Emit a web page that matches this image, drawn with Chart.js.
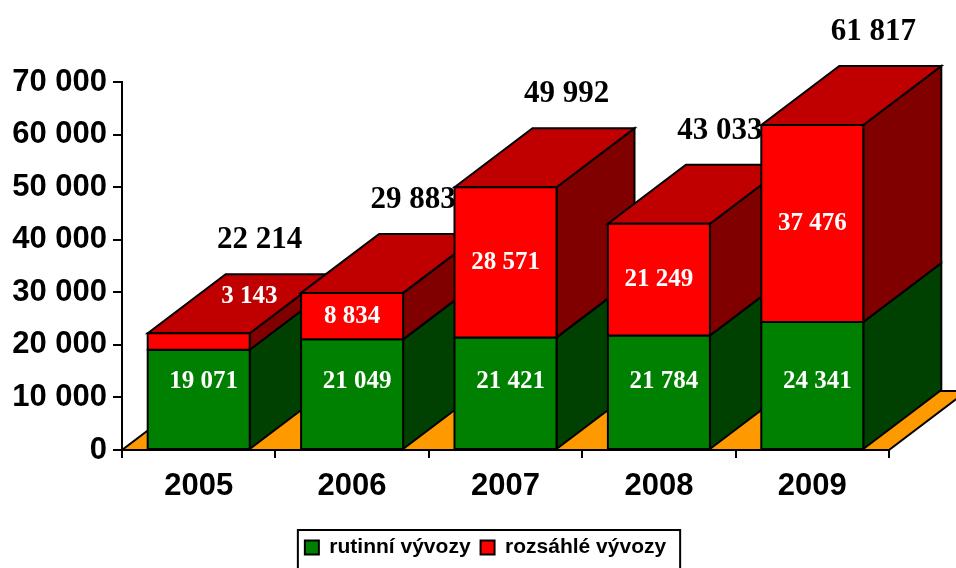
<!DOCTYPE html>
<html lang="cs">
<head>
    <meta charset="UTF-8">
    <title>Vývozy 2005-2009</title>
    <script src="https://cdn.jsdelivr.net/npm/chart.js"></script>
    <style>
        body {
            margin: 0;
            background: #fff;
        }
        .chart-container {
            width: 956px;
            height: 568px;
        }
    </style>
</head>
<body>
    <div class="chart-container">
        <canvas id="vyvozyChart"></canvas>
    </div>

    <script>
        // Data
        const years = ['2005', '2006', '2007', '2008', '2009'];
        const rutinni = [19071, 21049, 21421, 21784, 24341];
        const rozsahle = [3143, 8834, 28571, 21249, 37476];
        const totals = [22214, 29883, 49992, 43033, 61817];
        const yMax = 70000;
        const yStep = 10000;

        // colours: front, side, top
        const frontColors = ['#008000', '#ff0000'];
        const sideColors = ['#004000', '#800000'];
        const topColors = ['#006000', '#c00000'];
        const floorColor = '#ff9900';

        // depth of the 3D boxes in pixels
        const DX = 78, DY = -59;
        // legend sits a bit right of the centre in the original
        const LEGEND_SHIFT = 41;

        const fmt = v => String(v).replace(/\B(?=(\d{3})+(?!\d))/g, ' ');

        function poly(ctx, pts, fill) {
            ctx.beginPath();
            ctx.moveTo(pts[0][0], pts[0][1]);
            for (let k = 1; k < pts.length; k++) ctx.lineTo(pts[k][0], pts[k][1]);
            ctx.closePath();
            ctx.fillStyle = fill;
            ctx.fill();
            ctx.stroke();
        }

        // draws the floor, the boxes and the value labels
        const box3d = {
            id: 'box3d',
            afterLayout(chart) {
                // legend plugin recomputes its hitboxes after this (afterUpdate)
                const lg = chart.legend;
                lg.left += LEGEND_SHIFT;
                lg.right += LEGEND_SHIFT;
            },
            beforeDatasetsDraw(chart) {
                const ctx = chart.ctx;
                const xs = chart.scales.x, ys = chart.scales.y;
                const y0 = ys.getPixelForValue(0);
                ctx.save();
                ctx.lineWidth = 2;
                ctx.strokeStyle = '#000';

                poly(ctx, [[xs.left, y0], [xs.right, y0], [xs.right + DX, y0 + DY], [xs.left + DX, y0 + DY]], floorColor);

                const nSets = chart.data.datasets.length;
                years.forEach((yr, i) => {
                    const els = [];
                    for (let d = 0; d < nSets; d++) els.push(chart.getDatasetMeta(d).data[i]);
                    // sides
                    els.forEach((el, d) => {
                        const r = el.x + el.width / 2;
                        poly(ctx, [[r, el.base], [r + DX, el.base + DY], [r + DX, el.y + DY], [r, el.y]], sideColors[d]);
                    });
                    // top of the stack
                    const t = els[nSets - 1];
                    const l = t.x - t.width / 2, r = t.x + t.width / 2;
                    poly(ctx, [[l, t.y], [l + DX, t.y + DY], [r + DX, t.y + DY], [r, t.y]], topColors[nSets - 1]);
                    // fronts
                    els.forEach((el, d) => {
                        const lx = el.x - el.width / 2;
                        poly(ctx, [[lx, el.y], [lx + el.width, el.y], [lx + el.width, el.base], [lx, el.base]], frontColors[d]);
                    });
                });

                // labels
                ctx.textAlign = 'center';
                ctx.textBaseline = 'middle';
                years.forEach((yr, i) => {
                    const g = chart.getDatasetMeta(0).data[i];
                    const rd = chart.getDatasetMeta(1).data[i];
                    ctx.fillStyle = '#fff';
                    ctx.font = 'bold 25px "Liberation Serif"';
                    ctx.fillText(fmt(rutinni[i]), g.x + 5, g.base - 67);
                    if (rd.base - rd.y > 30) {
                        ctx.fillText(fmt(rozsahle[i]), rd.x, (rd.y + rd.base) / 2);
                    } else {
                        ctx.fillText(fmt(rozsahle[i]), rd.x + DX * 0.65, rd.y + DY * 0.62);
                    }
                    ctx.fillStyle = '#000';
                    ctx.font = 'bold 31px "Liberation Serif"';
                    ctx.fillText(fmt(totals[i]), rd.x + 61, rd.y - 93);
                });
                ctx.restore();
                return false;
            },
            afterDraw(chart) {
                const hb = chart.legend.legendHitBoxes;
                if (!hb || !hb.length) return;
                const last = hb[hb.length - 1];
                const left = hb[0].left - 7;
                const right = last.left + last.width + 14;
                const top = hb[0].top - 7;
                const ctx = chart.ctx;
                ctx.save();
                ctx.lineWidth = 2;
                ctx.strokeStyle = '#000';
                ctx.strokeRect(left, top, right - left, chart.height - top + 4);
                ctx.restore();
            }
        };

        const ctx = document.getElementById('vyvozyChart').getContext('2d');
        new Chart(ctx, {
            type: 'bar',
            data: {
                labels: years,
                datasets: [{
                    label: 'rutinní vývozy',
                    data: rutinni,
                    backgroundColor: frontColors[0],
                    borderColor: '#000',
                    borderWidth: 2
                }, {
                    label: 'rozsáhlé vývozy',
                    data: rozsahle,
                    backgroundColor: frontColors[1],
                    borderColor: '#000',
                    borderWidth: 2
                }]
            },
            options: {
                responsive: true,
                maintainAspectRatio: false,
                animation: false,
                events: [],
                categoryPercentage: 1,
                barPercentage: 0.665,
                layout: {
                    padding: { top: 82, right: 67, left: 0, bottom: 0 }
                },
                plugins: {
                    tooltip: { enabled: false },
                    legend: {
                        position: 'bottom',
                        labels: {
                            color: '#000',
                            boxWidth: 14,
                            boxHeight: 14,
                            padding: 10,
                            font: { family: 'Liberation Sans', weight: 'bold', size: 21 }
                        }
                    }
                },
                scales: {
                    x: {
                        stacked: true,
                        afterFit: s => {
                            s.height = s.chart.height - 450 - (s.chart.legend ? s.chart.legend.height : 0);
                        },
                        grid: { drawOnChartArea: false, tickLength: 8, color: '#000', lineWidth: 2 },
                        border: { color: '#000', width: 2 },
                        ticks: {
                            color: '#000',
                            padding: 10,
                            font: { family: 'Liberation Sans', weight: 'bold', size: 31 }
                        }
                    },
                    y: {
                        stacked: true,
                        min: 0,
                        max: yMax,
                        afterFit: s => { s.width = 122; },
                        grid: { drawOnChartArea: false, tickLength: 9, color: '#000', lineWidth: 2 },
                        border: { color: '#000', width: 2 },
                        ticks: {
                            stepSize: yStep,
                            color: '#000',
                            padding: 6,
                            callback: v => fmt(v),
                            font: { family: 'Liberation Sans', weight: 'bold', size: 31 }
                        }
                    }
                }
            },
            plugins: [box3d]
        });
    </script>
</body>
</html>
